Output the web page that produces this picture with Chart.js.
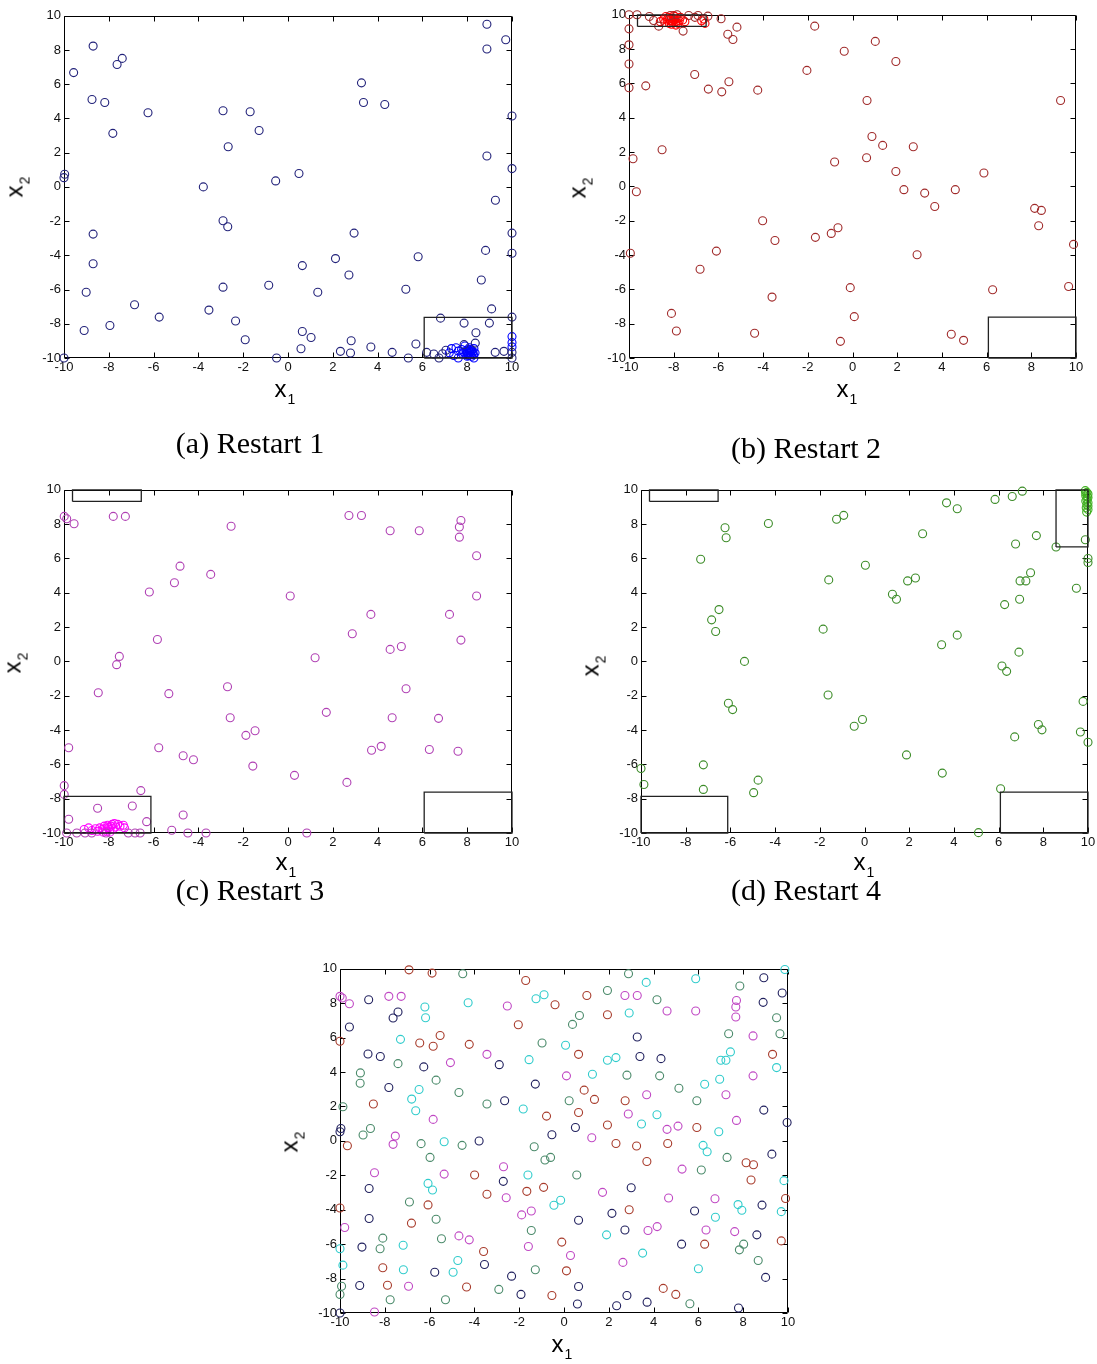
<!DOCTYPE html>
<html>
<head>
<meta charset="utf-8">
<script src="https://cdn.jsdelivr.net/npm/chart.js@4.4.1/dist/chart.umd.min.js"></script>
<style>
html,body{margin:0;padding:0;background:#fff;}
#page{position:relative;width:1097px;height:1364px;overflow:hidden;background:#fff;}
.panel{position:absolute;}
.panel canvas{display:block;}
.axlbl{position:absolute;font-family:"Liberation Sans",Arial,sans-serif;font-size:24px;line-height:24px;color:#000;white-space:nowrap;transform:translate(-50%,-50%);}
.axlbl.rot{transform:translate(-50%,-50%) rotate(-90deg);}
.axlbl .s{font-size:14px;position:relative;top:7px;margin-left:1px;}
.cap{position:absolute;font-family:"Liberation Serif","Times New Roman",serif;font-size:30px;line-height:30px;white-space:nowrap;transform:translate(-50%,-50%);color:#000;}
</style>
</head>
<body>
<div id="page"></div>
<script>
// ---- axis ticks ----
const axisMin = -10, axisMax = 10, axisStep = 2;

// ---- boxed sub-regions (x range, y range) ----
const regionNW = [[-9.62, -6.55], [9.32, 10]];
const regionSW = [[-10, -6.12], [-10, -7.87]];
const regionSE = [[6.08, 10], [-10, -7.62]];
const regionNE = [[8.57, 10], [6.67, 10]];

// ---- Restart 1 ----
const restart1Spread = [
  [-8.7,8.23],[-7.4,7.51],[-7.63,7.15],[-9.57,6.68],[-8.75,5.11],[-8.18,4.93],[-6.25,4.33],[-7.82,3.13],
  [-2.9,4.45],[-1.69,4.39],[-1.29,3.3],[-2.67,2.35],[-9.97,0.74],[-10,0.54],[-3.78,0],[-0.55,0.35],
  [-2.9,-1.98],[-2.69,-2.33],[-8.7,-2.76],[-8.7,-4.49],[-9.01,-6.16],[-6.85,-6.89],[-5.75,-7.61],[-9.1,-8.39],
  [-7.95,-8.1],[-3.53,-7.2],[-2.9,-5.86],[-0.86,-5.75],[-2.34,-7.84],[-1.91,-8.93],[-0.51,-10],[-10,-10],
  [8.88,9.51],[9.72,8.6],[8.88,8.06],[3.28,6.08],[3.37,4.93],[4.32,4.82],[10,4.14],[8.88,1.81],[10,1.07],
  [9.26,-0.78],[0.49,0.78],[10,-2.7],[2.95,-2.7],[10,-3.88],[8.82,-3.71],[5.81,-4.08],[2.12,-4.19],[0.64,-4.6],
  [2.72,-5.15],[8.63,-5.44],[1.33,-6.16],[5.26,-5.98],[9.09,-7.13],[10,-7.61],[6.81,-7.67],[8.99,-7.96],
  [7.86,-7.96],[8.39,-8.52],[0.64,-8.45],[1.03,-8.8],[2.82,-8.99],[0.58,-9.46],[2.34,-9.61],[2.79,-9.71],
  [3.7,-9.36],[4.65,-9.67],[5.71,-9.18],[5.37,-10],[6.19,-9.67],[6.51,-9.77],[6.74,-10],[9.25,-9.67],
  [9.64,-9.61],[10,-9.67],[10,-10],[7.86,-9.22],[8.36,-9.13],[6.9,-9.75],[7.05,-9.55]
];
const restart1Cluster = [
  [7.3,-9.45],[7.5,-9.4],[7.6,-9.6],[7.75,-9.5],[7.8,-9.75],[7.9,-9.3],[7.95,-9.55],[8.0,-9.7],[8.05,-9.85],
  [8.1,-9.6],[8.1,-9.4],[8.15,-9.75],[8.2,-9.55],[8.2,-9.9],[8.25,-9.65],[8.3,-9.45],[8.0,-9.9],[7.95,-9.8],
  [8.05,-9.5],[8.12,-9.68],[8.18,-9.62],[8.08,-9.72],[8.28,-9.8],[7.85,-9.65],[8.35,-9.7],[8.0,-9.6],
  [8.15,-9.5],[7.2,-9.7],[7.4,-9.85],[7.6,-10],[8.3,-10],[10,-8.75],[10,-9.1],[10,-9.35]
];

// ---- Restart 2 ----
const restart2Spread = [
  [-10,10],[-9.64,10],[-9.09,9.9],[-8.9,9.67],[-8.67,9.34],[-8.15,9.96],[-7.85,10],[-7.33,9.96],[-6.91,9.96],
  [-6.47,9.92],[-5.88,9.77],[-7.58,9.05],[-7.05,9.85],
  [-10,9.18],[-10,8.25],[-10,7.13],[-10,5.75],[-9.25,5.86],[-5.58,8.87],[-5.35,8.56],[-5.17,9.28],[-1.69,9.34],
  [-0.37,7.88],[-7.06,6.52],[-6.45,5.67],[-5.85,5.51],[-5.53,6.1],[-4.24,5.61],[-2.04,6.76],[-8.52,2.14],
  [-9.82,1.61],[-9.67,-0.31],[-0.8,1.42],[-4.02,-2.0],[-3.47,-3.15],[-1.66,-2.97],[-0.95,-2.74],[-0.65,-2.41],
  [-9.94,-3.9],[-6.09,-3.77],[-6.82,-4.83],[-0.1,-5.9],[-3.6,-6.45],[-8.1,-7.4],[-7.88,-8.43],[-4.38,-8.56],
  [0.08,-7.59],[-0.54,-9.03],
  [1.02,8.45],[1.94,7.28],[0.65,5.01],[9.31,5.01],[0.87,2.91],[1.35,2.39],[2.72,2.31],[0.63,1.67],[1.94,0.87],
  [5.88,0.78],[2.3,-0.19],[3.23,-0.39],[4.6,-0.19],[3.68,-1.17],[8.15,-1.28],[8.45,-1.4],[8.33,-2.29],
  [9.89,-3.38],[2.89,-3.98],[6.27,-6.02],[9.67,-5.83],[4.42,-8.62],[4.97,-8.97]
];
const restart2Cluster = [
  [-8.6,9.6],[-8.45,9.75],[-8.4,9.55],[-8.3,9.7],[-8.25,9.85],[-8.2,9.5],[-8.15,9.65],[-8.1,9.8],[-8.05,9.55],
  [-8.0,9.7],[-7.95,9.9],[-7.9,9.6],[-7.85,9.75],[-7.8,9.5],[-7.75,9.65],[-7.7,9.85],[-7.6,9.7],[-7.5,9.6],
  [-8.1,9.45],[-8.35,9.9],[-8.0,9.95],[-7.9,9.4],[-8.2,9.75],[-8.05,9.62],[-7.95,9.72],[-6.75,9.65],
  [-6.65,9.75],[-6.6,9.5]
];

// ---- Restart 3 ----
const restart3Spread = [
  [-9.99,8.45],[-9.88,8.31],[-9.55,8.02],[-7.8,8.45],[-7.26,8.45],[-2.54,7.88],[-4.82,5.55],[-5.07,4.58],
  [-3.45,5.07],[-6.19,4.04],[-5.83,1.28],[-7.53,0.29],[-7.65,-0.19],[-8.47,-1.83],[-5.32,-1.88],[-2.7,-1.48],
  [-2.58,-3.28],[-1.88,-4.31],[-1.47,-4.04],[-9.79,-5.03],[-5.77,-5.03],[-4.68,-5.5],[-4.22,-5.73],[-1.57,-6.1],
  [-9.99,-7.24],[-9.99,-7.75],[-6.57,-7.53],[-8.5,-8.56],[-6.95,-8.43],[-9.79,-9.2],[-6.31,-9.34],[-4.68,-8.95],
  [-5.19,-9.84],[-4.47,-10],[-3.66,-10],
  [-9.88,-10],[-9.43,-10],[-9.06,-10],[-8.76,-10],[-8.12,-10],[-7.13,-10],[-6.83,-10],[-6.6,-10],
  [0.1,3.81],[2.72,8.5],[3.28,8.5],[4.56,7.61],[5.86,7.61],[7.72,8.21],[7.65,7.83],[7.65,7.24],[8.42,6.16],
  [8.42,3.81],[3.7,2.74],[7.21,2.74],[2.87,1.61],[7.72,1.24],[4.56,0.7],[5.06,0.87],[1.21,0.21],[5.27,-1.59],
  [1.71,-2.97],[4.65,-3.28],[6.72,-3.32],[3.73,-5.18],[4.16,-4.95],[6.31,-5.13],[7.59,-5.24],[0.29,-6.64],
  [2.63,-7.05],[0.84,-10]
];
const restart3Cluster = [
  [-9.1,-9.8],[-8.9,-9.7],[-8.75,-9.85],[-8.6,-9.75],[-8.5,-9.9],[-8.4,-9.7],[-8.3,-9.8],[-8.2,-9.6],
  [-8.15,-9.75],[-8.1,-9.9],[-8.05,-9.55],[-8.0,-9.7],[-7.95,-9.8],[-7.9,-9.6],[-7.85,-9.5],[-7.8,-9.75],
  [-7.75,-9.45],[-7.7,-9.65],[-7.6,-9.5],[-7.5,-9.6],[-7.35,-9.55],[-7.3,-9.7],[-8.25,-9.95],[-7.95,-9.95],
  [-8.05,-9.65]
];

// ---- Restart 4 ----
const restart4Spread = [
  [-6.24,7.79],[-6.19,7.21],[-4.3,8.04],[-1.25,8.28],[-0.93,8.51],[-7.33,5.95],[0.04,5.6],[-1.6,4.75],
  [-6.51,3.02],[-6.84,2.42],[-6.66,1.74],[-1.85,1.88],[-5.37,0],[-6.09,-2.44],[-5.9,-2.81],[-1.63,-1.96],
  [-0.46,-3.78],[-0.09,-3.39],[-10,-6.24],[-9.87,-7.17],[-7.21,-6.03],[-7.21,-7.46],[-4.76,-6.92],[-4.96,-7.65],
  [7.06,9.92],[6.61,9.61],[5.84,9.44],[3.67,9.24],[4.15,8.9],[2.6,7.44],[7.69,7.33],[6.76,6.84],[8.57,6.67],
  [1.93,4.69],[2.28,4.86],[1.25,3.91],[1.43,3.62],[7.43,5.17],[6.96,4.69],[7.22,4.69],[6.94,3.62],[6.27,3.31],
  [9.48,4.26],[4.15,1.53],[3.45,0.97],[6.91,0.54],[6.15,-0.27],[6.36,-0.58],[9.78,-2.33],[7.78,-3.68],
  [7.94,-3.99],[6.72,-4.4],[9.66,-4.11],[10,-4.71],[1.88,-5.45],[3.48,-6.51],[6.09,-7.42],[5.1,-9.98],
  [9.88,7.09],[10,6.0],[10,5.76]
];
const restart4Cluster = [
  [9.88,9.95],[9.95,9.85],[10,9.75],[9.9,9.65],[10,9.55],[9.95,9.45],[9.9,9.35],[10,9.25],[9.95,9.15],
  [10,9.05],[9.92,8.95],[10,8.85],[9.97,9.6],[9.9,9.8],[9.94,8.7]
];

// ---- initial samples of the five restarts ----
const samples1 = [
  [-8.72,8.2],[-7.63,7.14],[-7.41,7.49],[-9.58,6.62],[-8.75,5.05],[-8.2,4.9],[-6.26,4.3],[-2.89,4.43],[-7.82,3.1],
  [-2.65,2.33],[-1.28,3.3],[-0.54,0.36],[-10,0.53],[-9.96,0.72],[-3.79,-0.01],[-8.7,-2.77],[-2.71,-2.35],
  [-8.7,-4.51],[-9.02,-6.17],[-3.55,-7.18],[-5.77,-7.63],[-2.34,-7.86],[-9.12,-8.4],[-1.92,-8.92],[-10,-10],
  [8.92,9.48],[9.74,8.59],[8.89,8.05],[3.27,6.04],[3.39,4.9],[4.33,4.78],[8.92,1.79],[9.96,1.07],[0.51,0.78],
  [9.28,-0.77],[3.0,-2.72],[8.84,-3.73],[2.14,-4.21],[5.83,-4.07],[0.65,-4.61],[2.72,-5.18],[8.61,-5.46],
  [5.25,-6.0],[9.0,-7.93],[0.65,-8.46],[2.81,-8.98],[0.6,-9.48],[2.35,-9.58],[3.71,-9.37],[7.79,-9.71]
];
const samples2 = [
  [-6.92,9.94],[-5.89,9.75],[-1.71,9.32],[-0.4,7.91],[-2.04,6.75],[-10,5.79],[-6.44,5.69],[-5.84,5.5],
  [-5.53,6.12],[-4.23,5.61],[-8.51,2.14],[-0.78,1.44],[-9.67,-0.28],[-3.99,-1.98],[-3.44,-3.1],[-1.66,-2.93],
  [-0.91,-2.7],[-10,-3.9],[-6.07,-3.72],[-6.81,-4.78],[-3.59,-6.43],[-0.1,-5.88],[-8.09,-7.37],[-7.88,-8.39],
  [-4.35,-8.49],[-0.54,-8.98],
  [1.02,8.45],[1.94,7.33],[0.65,5.03],[9.31,5.03],[0.9,2.95],[1.36,2.41],[2.73,2.33],[0.65,1.65],[1.94,0.92],
  [5.93,0.78],[2.32,-0.15],[3.24,-0.3],[4.63,-0.15],[3.7,-1.2],[8.13,-1.27],[8.46,-1.39],[8.35,-2.27],
  [9.89,-3.35],[2.91,-4.0],[9.7,-5.81],[6.28,-6.0],[0.11,-7.55],[4.43,-8.57],[4.99,-8.92]
];
const samples3 = [
  [-10,8.4],[-9.9,8.3],[-9.58,7.97],[-7.82,8.4],[-7.27,8.4],[-2.53,7.84],[-5.07,4.55],[-3.44,5.03],[-5.84,1.25],
  [-7.53,0.28],[-7.63,-0.2],[-8.46,-1.85],[-5.35,-1.93],[-2.7,-1.5],[-2.58,-3.3],[-9.79,-5.03],[-1.89,-4.3],
  [-1.46,-4.07],[-4.69,-5.52],[-4.23,-5.75],[-1.59,-6.14],[-6.94,-8.45],[-8.46,-9.94],
  [2.72,8.45],[3.27,8.45],[4.6,7.55],[5.88,7.55],[7.7,8.16],[7.67,7.78],[7.67,7.2],[8.44,6.1],[0.11,3.78],
  [8.44,3.78],[3.69,2.68],[7.23,2.68],[2.87,1.56],[7.7,1.19],[4.6,0.67],[5.09,0.86],[1.24,0.18],[5.27,-1.64],
  [1.72,-2.99],[4.67,-3.32],[6.74,-3.36],[3.75,-5.21],[4.16,-4.98],[6.34,-5.18],[7.62,-5.27],[0.29,-6.66],
  [2.63,-7.06]
];
const samples4 = [
  [-4.28,8.03],[-1.25,8.26],[-0.89,8.49],[-6.21,7.78],[-6.18,7.16],[-7.3,5.9],[-1.56,4.72],[-6.47,2.99],
  [-6.8,2.43],[-6.62,1.75],[-1.82,1.85],[-5.35,-0.05],[-1.61,-1.98],[-6.07,-2.47],[-5.87,-2.85],[-0.45,-3.74],
  [-0.15,-3.45],[-10,-6.27],[-7.18,-6.06],[-9.87,-7.22],[-7.17,-7.49],[-4.74,-6.95],[-4.95,-7.63],
  [3.67,9.21],[5.88,9.42],[9.86,9.96],[2.91,7.43],[0.07,5.56],[1.94,4.69],[2.32,4.84],[7.0,4.69],[7.23,4.69],
  [7.43,5.17],[9.49,4.26],[1.27,3.87],[6.28,3.29],[6.95,3.58],[4.15,1.52],[3.46,0.98],[6.91,0.53],[6.21,-0.26],
  [6.39,-0.63],[9.82,-2.31],[7.77,-3.7],[7.94,-4.03],[9.7,-4.11],[6.76,-4.44],[1.9,-5.46],[3.51,-6.52],[6.0,-7.43]
];
const samples5 = [
  [-4.52,9.71],[-0.98,5.69],[-7.41,4.49],[-9.09,3.95],[-9.1,3.35],[-5.71,3.53],[-4.69,2.81],[-3.44,2.14],
  [-9.87,1.98],[-8.97,0.34],[-8.64,0.72],[-6.38,-0.16],[-4.55,-0.26],[-1.33,-0.34],[-5.98,-0.96],[-0.85,-1.11],
  [-0.6,-0.96],[-6.9,-3.55],[-5.71,-4.55],[-1.46,-5.21],[-8.09,-5.65],[-8.21,-6.27],[-5.47,-5.69],[-1.28,-7.49],
  [-9.93,-8.45],[-10,-8.92],[-7.76,-9.23],[-5.29,-9.23],[-2.91,-8.63],
  [2.88,9.71],[1.94,8.74],[4.15,8.2],[7.85,9.0],[9.49,7.16],[0.69,7.29],[0.38,6.77],[7.35,6.23],[9.64,6.23],
  [2.81,3.82],[4.27,3.78],[5.13,3.06],[0.23,2.33],[5.93,2.33],[7.28,-0.96],[0.57,-1.98],[6.13,-1.69],
  [8.02,-6.0],[7.83,-6.33],[8.67,-6.95],[5.62,-9.46]
];

// ---- drawing helpers ----
const tickFont = { family: '"Liberation Sans", Arial, sans-serif', size: 13 };

const frame = {
  id: 'frame',
  beforeDatasetsDraw(chart) {
    const { ctx, chartArea: a, scales: { x, y } } = chart;
    const L = Math.round(a.left) + 0.5, R = Math.round(a.right) - 0.5;
    const T = Math.round(a.top) + 0.5, B = Math.round(a.bottom) - 0.5;
    ctx.save();
    ctx.strokeStyle = '#000';
    ctx.lineWidth = 1;
    ctx.beginPath();
    ctx.rect(L, T, R - L, B - T);
    x.ticks.forEach(t => {
      const p = Math.round(x.getPixelForValue(t.value)) + 0.5;
      ctx.moveTo(p, B); ctx.lineTo(p, B - 5);
      ctx.moveTo(p, T); ctx.lineTo(p, T + 5);
    });
    y.ticks.forEach(t => {
      const p = Math.round(y.getPixelForValue(t.value)) + 0.5;
      ctx.moveTo(L, p); ctx.lineTo(L + 5, p);
      ctx.moveTo(R, p); ctx.lineTo(R - 5, p);
    });
    ctx.stroke();
    ctx.restore();
  }
};

function toXY(list) { return list.map(p => ({ x: p[0], y: p[1] })); }

function markers(list, color) {
  return {
    type: 'scatter', data: toXY(list), borderColor: color, backgroundColor: 'rgba(0,0,0,0)',
    pointStyle: 'circle', pointRadius: 4, pointBorderWidth: 1.1, borderWidth: 1.1,
    pointHoverRadius: 4, showLine: false, clip: false
  };
}

function outline(region) {
  const [[x0, x1], [y0, y1]] = region;
  return {
    type: 'line', data: toXY([[x0, y0], [x1, y0], [x1, y1], [x0, y1], [x0, y0]]),
    borderColor: '#222', borderWidth: 1.3, pointRadius: 0, fill: false, tension: 0, clip: false
  };
}

function axisOpts(isX) {
  return {
    type: 'linear', min: axisMin, max: axisMax,
    ticks: { stepSize: axisStep, autoSkip: false, maxRotation: 0, minRotation: 0,
             padding: isX ? 2 : 3, font: tickFont, color: '#111' },
    grid: { display: false, drawTicks: false },
    border: { display: false },
    afterFit: s => { if (isX) s.height = 30; else s.width = 50; }
  };
}

const page = document.getElementById('page');

function panel(box, datasets) {
  const W = box.R - box.L + 60, H = box.B - box.T + 40;
  const div = document.createElement('div');
  div.className = 'panel';
  div.style.left = (box.L - 50) + 'px';
  div.style.top = (box.T - 10) + 'px';
  div.style.width = W + 'px';
  div.style.height = H + 'px';
  const cv = document.createElement('canvas');
  cv.width = W; cv.height = H;
  cv.style.width = W + 'px'; cv.style.height = H + 'px';
  div.appendChild(cv);
  page.appendChild(div);
  new Chart(cv, {
    type: 'scatter',
    data: { datasets },
    options: {
      responsive: false, animation: false, devicePixelRatio: 1,
      layout: { padding: { left: 0, top: 10, right: 10, bottom: 0 } },
      plugins: { legend: { display: false }, tooltip: { enabled: false } },
      scales: { x: axisOpts(true), y: axisOpts(false) }
    },
    plugins: [frame]
  });
}

function axisLabel(letter, sub, cx, cy, rotated) {
  const d = document.createElement('div');
  d.className = 'axlbl' + (rotated ? ' rot' : '');
  d.innerHTML = letter + '<span class="s">' + sub + '</span>';
  d.style.left = cx + 'px';
  d.style.top = cy + 'px';
  page.appendChild(d);
}

function caption(text, cx, cy) {
  const d = document.createElement('div');
  d.className = 'cap';
  d.textContent = text;
  d.style.left = cx + 'px';
  d.style.top = cy + 'px';
  page.appendChild(d);
}

// (a) Restart 1
panel({ L: 64, R: 512, T: 15, B: 358 }, [
  outline(regionSE),
  markers(restart1Spread, '#22227a'),
  markers(restart1Cluster, '#0000ff')
]);
// (b) Restart 2
panel({ L: 629, R: 1076, T: 14, B: 358 }, [
  outline(regionNW), outline(regionSE),
  markers(restart2Spread, '#a02a2a'),
  markers(restart2Cluster, '#ff0000')
]);
// (c) Restart 3
panel({ L: 64, R: 512, T: 489, B: 833 }, [
  outline(regionNW), outline(regionSW), outline(regionSE),
  markers(restart3Spread, '#b040b4'),
  markers(restart3Cluster, '#ff00ff')
]);
// (d) Restart 4
panel({ L: 641, R: 1088, T: 489, B: 833 }, [
  outline(regionNW), outline(regionSW), outline(regionSE), outline(regionNE),
  markers(restart4Spread, '#3c8c28'),
  markers(restart4Cluster, '#40b020')
]);
// all restarts, initial samples
panel({ L: 340, R: 788, T: 968, B: 1313 }, [
  markers(samples1, '#20205e'),
  markers(samples2, '#a83c2c'),
  markers(samples3, '#c048c4'),
  markers(samples4, '#30cccc'),
  markers(samples5, '#4a8a6a')
]);

axisLabel('x', '1', 285, 390, false);
axisLabel('x', '2', 16, 187, true);
axisLabel('x', '1', 847, 390, false);
axisLabel('x', '2', 579, 188, true);
axisLabel('x', '1', 286, 863, false);
axisLabel('x', '2', 14, 663, true);
axisLabel('x', '1', 864, 863, false);
axisLabel('x', '2', 592, 666, true);
axisLabel('x', '1', 562, 1345, false);
axisLabel('x', '2', 291, 1142, true);

caption('(a) Restart 1', 250, 443);
caption('(b) Restart 2', 806, 448);
caption('(c) Restart 3', 250, 890);
caption('(d) Restart 4', 806, 890);
</script>
</body>
</html>
